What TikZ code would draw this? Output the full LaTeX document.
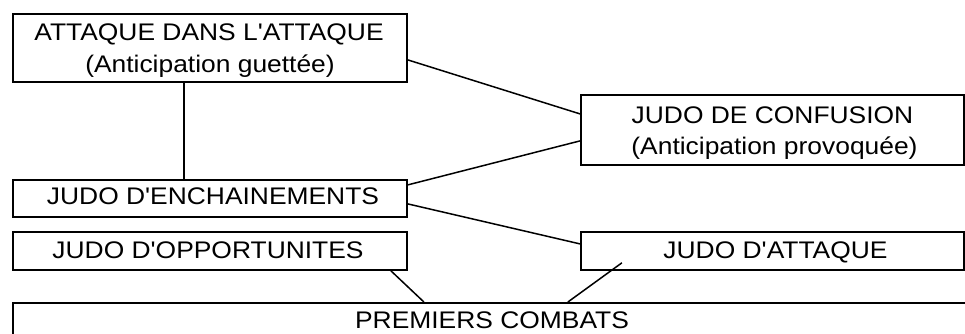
\documentclass[tikz,border=0pt]{standalone}
\usepackage{fontspec}
\setmainfont[Ligatures=TeXOff]{Liberation Sans}
\usepackage{graphicx}
\newcommand{\wtxt}[1]{\scalebox{1.10}[1]{#1}}
\begin{document}
\begin{tikzpicture}[x=1pt,y=-1pt,
  boxn/.style={draw=black,line width=1.8pt,rectangle,inner sep=0pt,anchor=north west},
  txt/.style={inner sep=0pt,anchor=base,font=\fontsize{24}{31}\selectfont},
  conn/.style={draw=black,line width=1.5pt}]
\clip (0,0) rectangle (965,334);
\fill[white] (0,0) rectangle (965,334);
% boxes
\node[boxn,minimum width=394pt,minimum height=68pt] (A) at (12,13) {};
\node[boxn,minimum width=383pt,minimum height=70pt] (C) at (580,94) {};
\node[boxn,minimum width=394pt,minimum height=37pt] (E) at (12,179) {};
\node[boxn,minimum width=394pt,minimum height=38pt] (O) at (12,231) {};
\node[boxn,minimum width=383pt,minimum height=38pt] (D) at (580,231) {};
\node[boxn,minimum width=960pt,minimum height=60pt] (P) at (12,302) {};
% texts
\node[txt] (A1) at (209,41) {\wtxt{ATTAQUE DANS L'ATTAQUE}};
\node[txt] (A2) at (210,73) {\wtxt{(Anticipation guettée)}};
\node[txt] (C1) at (772.5,123.5) {\wtxt{JUDO DE CONFUSION}};
\node[txt] (C2) at (774.5,154) {\wtxt{(Anticipation provoquée)}};
\node[txt] (E1) at (213,204.5) {\wtxt{JUDO D'ENCHAINEMENTS}};
\node[txt] (O1) at (208,258) {\wtxt{JUDO D'OPPORTUNITES}};
\node[txt] (D1) at (775.5,258) {\wtxt{JUDO D'ATTAQUE}};
\node[txt] (P1) at (492,328.5) {\wtxt{PREMIERS COMBATS}};
% connectors
\draw[conn] ([xshift=-26pt]A.south) -- ([xshift=-26pt]E.north);
\draw[conn] ([yshift=-12pt]A.east) -- ([yshift=16pt]C.west);
\draw[conn] ([yshift=13.5pt]E.east) -- ([yshift=-11pt]C.west);
\draw[conn] ([yshift=-5.5pt]E.east) -- ([yshift=7pt]D.west);
\draw[conn] ([xshift=181pt]O.south) -- ([xshift=-69pt]P.north);
\draw[conn] ([xshift=75pt]P.north) -- ([xshift=-150.5pt,yshift=8pt]D.south);
\end{tikzpicture}
\end{document}
